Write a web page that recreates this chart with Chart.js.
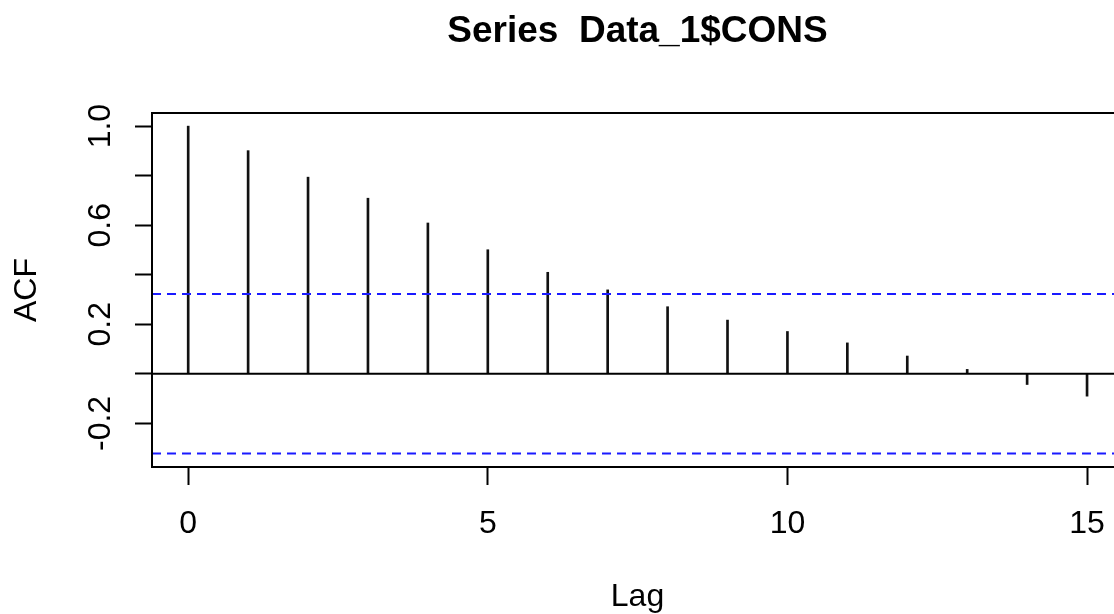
<!DOCTYPE html>
<html>
<head>
<meta charset="utf-8">
<title>Series Data_1$CONS</title>
<script src="https://cdn.jsdelivr.net/npm/chart.js@4.4.1/dist/chart.umd.min.js"></script>
<style>
  html, body { margin: 0; padding: 0; background: #fff; overflow: hidden; }
  #wrap { width: 1114px; height: 614px; overflow: hidden; }
  canvas { display: block; }
</style>
</head>
<body>
<div id="wrap"><canvas id="acf" width="1130" height="614"></canvas></div>
<script>
// Autocorrelation of Data_1$CONS by lag
const lags = [0, 1, 2, 3, 4, 5, 6, 7, 8, 9, 10, 11, 12, 13, 14, 15];
const acfValues = [1.0, 0.901, 0.794, 0.709, 0.609, 0.501, 0.410, 0.339, 0.271, 0.217, 0.171, 0.125, 0.072, 0.018, -0.043, -0.090];
// 95% white-noise bound, +/- 1.96 / sqrt(n)
const ciBound = 0.322;
const xTickValues = [0, 5, 10, 15];
const yTickValues = [-0.2, 0.0, 0.2, 0.4, 0.6, 0.8, 1.0];
const yTickLabels = ['-0.2', '0.2', '0.6', '1.0'];
const yLabelValues = [-0.2, 0.2, 0.6, 1.0];
const chartTitle = 'Series  Data_1$CONS';
const xTitle = 'Lag';
const yTitle = 'ACF';

const xRange = [-0.604, 15.6];
const yRange = [-0.376, 1.053];

const FONT = '"Liberation Sans", Arial, sans-serif';

const spikes = lags.map((l, i) => ({ x: l, y: acfValues[i] }));
const hLine = v => [{ x: xRange[0], y: v }, { x: xRange[1], y: v }];

// Plot frame, main title and rotated y tick labels in the R base-graphics style
const rFrame = {
  id: 'rFrame',
  afterDatasetsDraw(chart) {
    const { ctx, chartArea: a } = chart;
    ctx.save();
    ctx.strokeStyle = '#000';
    ctx.lineWidth = 2;
    ctx.strokeRect(a.left, a.top, a.right - a.left, a.bottom - a.top);
    ctx.restore();
  },
  afterDraw(chart) {
    const { ctx, chartArea: a, scales: { y } } = chart;
    ctx.save();
    ctx.fillStyle = '#000';
    ctx.font = 'bold 37px ' + FONT;
    ctx.textAlign = 'center';
    ctx.textBaseline = 'alphabetic';
    ctx.fillText(chartTitle, (a.left + a.right) / 2, 42);

    ctx.font = '32px ' + FONT;
    yLabelValues.forEach((v, i) => {
      const py = y.getPixelForValue(v);
      ctx.save();
      ctx.translate(110, py);
      ctx.rotate(-Math.PI / 2);
      ctx.textAlign = 'center';
      ctx.textBaseline = 'alphabetic';
      ctx.fillText(yTickLabels[i], 0, 0);
      ctx.restore();
    });
    ctx.restore();
  }
};

new Chart(document.getElementById('acf'), {
  type: 'bar',
  data: {
    datasets: [
      {
        type: 'line',
        data: hLine(0),
        borderColor: '#000',
        borderWidth: 2,
        pointRadius: 0,
        fill: false,
        order: 0
      },
      {
        type: 'line',
        data: hLine(ciBound),
        borderColor: '#1a1aff',
        borderWidth: 2,
        borderDash: [9, 6],
        pointRadius: 0,
        fill: false,
        order: 1
      },
      {
        type: 'line',
        data: hLine(-ciBound),
        borderColor: '#1a1aff',
        borderWidth: 2,
        borderDash: [9, 6],
        pointRadius: 0,
        fill: false,
        order: 1
      },
      {
        type: 'bar',
        data: spikes,
        backgroundColor: '#111',
        borderWidth: 0,
        barThickness: 2,
        order: 2
      }
    ]
  },
  options: {
    responsive: false,
    devicePixelRatio: 1,
    animation: false,
    layout: { padding: { top: 113, left: 0, right: 7, bottom: 0 } },
    plugins: {
      legend: { display: false },
      title: { display: false },
      tooltip: { enabled: false }
    },
    scales: {
      x: {
        type: 'linear',
        min: xRange[0],
        max: xRange[1],
        offset: false,
        afterBuildTicks: s => { s.ticks = xTickValues.map(v => ({ value: v })); },
        afterFit: s => { s.height = 147; },
        border: { display: false },
        grid: {
          display: true,
          drawOnChartArea: false,
          drawTicks: true,
          tickLength: 18,
          tickWidth: 2,
          tickColor: '#000',
          offset: false
        },
        ticks: {
          color: '#000',
          font: { family: FONT, size: 32 },
          padding: 20,
          maxRotation: 0,
          autoSkip: false,
          callback: v => String(v)
        },
        title: {
          display: true,
          text: xTitle,
          color: '#000',
          font: { family: FONT, size: 32, lineHeight: 1 },
          padding: { top: 0, bottom: 1 }
        }
      },
      y: {
        type: 'linear',
        min: yRange[0],
        max: yRange[1],
        afterBuildTicks: s => { s.ticks = yTickValues.map(v => ({ value: v })); },
        afterFit: s => { s.width = 152; },
        border: { display: false },
        grid: {
          display: true,
          drawOnChartArea: false,
          drawTicks: true,
          tickLength: 17,
          tickWidth: 2,
          tickColor: '#000'
        },
        ticks: { display: false },
        title: {
          display: true,
          text: yTitle,
          color: '#000',
          font: { family: FONT, size: 32, lineHeight: 1 },
          padding: { top: 11, bottom: 0 }
        }
      }
    }
  },
  plugins: [rFrame]
});
</script>
</body>
</html>
